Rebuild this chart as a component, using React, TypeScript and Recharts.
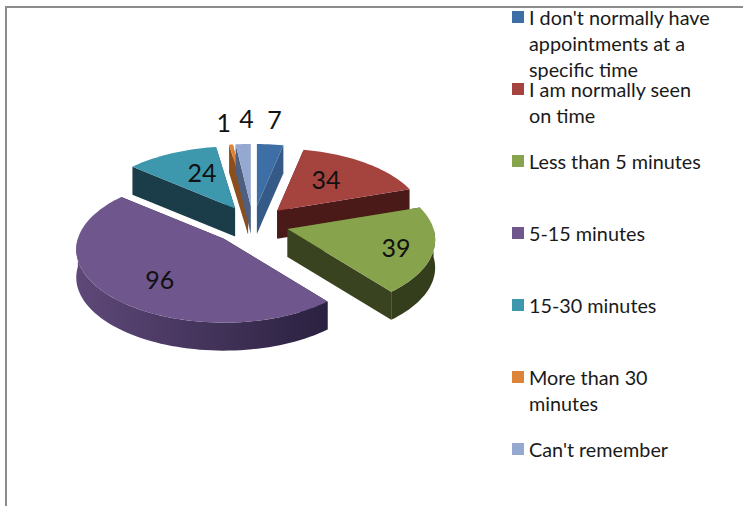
import { Pie, PieChart } from 'recharts';

const categories = [
  "I don't normally have appointments at a specific time",
  'I am normally seen on time',
  'Less than 5 minutes',
  '5-15 minutes',
  '15-30 minutes',
  'More than 30 minutes',
  "Can't remember",
];
const values = [7, 34, 39, 96, 24, 1, 4];
const legendLines = [
  ["I don't normally have", 'appointments at a', 'specific time'],
  ['I am normally seen', 'on time'],
  ['Less than 5 minutes'],
  ['5-15 minutes'],
  ['15-30 minutes'],
  ['More than 30', 'minutes'],
  ["Can't remember"],
];

// styling per slice
const topColors = ['#3e6ea6', '#a5433f', '#87a34b', '#6f568c', '#3d97ad', '#dd8439', '#95a9d0'];
const cutColors = ['#355a87', '#4a1a18', '#39431f', '#2b2140', '#1b3d4a', '#8a4f1d', '#4f5f80'];
const wallLeft = ['#355a87', '#4a1a18', '#3f4a22', '#5e4878', '#1b3d4a', '#8a4f1d', '#4f5f80'];
const wallRight = ['#355a87', '#4a1a18', '#343d1c', '#2b2140', '#1b3d4a', '#8a4f1d', '#4f5f80'];
const explode = [1, 1, 1, 1.15, 1, 1, 1];
const labelRadius = [1.45, 0.6, 0.75, 0.62, 0.5, 1.4, 1.5];
const labelNudgeX = [0, -6, 0, 4, 1, -2, 6];
const labelNudgeY = [-5, -1, 2, 6, -7, -4, -3];

// slices are painted back to front, so teal goes first and purple last
const drawOrder = [4, 5, 6, 0, 1, 2, 3];
const total = values.reduce((a, b) => a + b, 0);
const firstClock = (values.slice(0, drawOrder[0]).reduce((a, b) => a + b, 0) / total) * 360;
const pieData = drawOrder.map((i) => ({ name: categories[i], value: values[i], fill: topColors[i], idx: i }));

const CX = 253;
const CY = 224;
const RX = 146;
const RY = 73;
const DEPTH = 28;
const PERSP = 0.15;
const EX = 36;
const EY = 18;

const rad = (d: number) => (d * Math.PI) / 180;

// clock angle + radial fraction -> tilted pie coordinates, near side bigger than far side
function project(clock: number, r: number, rx: number, ry: number) {
  const u = Math.sin(rad(clock)) * r;
  const v = -Math.cos(rad(clock)) * r;
  const w = 1 + PERSP * v;
  return { x: u * rx * w, y: v * ry * w };
}

function apexOf(cx: number, cy: number, mid: number, idx: number) {
  const k = explode[idx];
  return {
    x: cx + Math.sin(rad(mid)) * EX * k,
    y: cy - Math.cos(rad(mid)) * EY * k,
  };
}

function arcPoints(ax: number, ay: number, from: number, to: number, rx: number, ry: number, drop = 0) {
  const pts: string[] = [];
  const n = Math.max(2, Math.ceil(Math.abs(to - from) / 2));
  for (let k = 0; k <= n; k++) {
    const p = project(from + ((to - from) * k) / n, 1, rx, ry);
    pts.push(`${(ax + p.x).toFixed(2)},${(ay + p.y + drop).toFixed(2)}`);
  }
  return pts;
}

function Slice3D(props: any) {
  const { cx, cy, outerRadius, startAngle, endAngle, payload } = props;
  const idx = payload?.idx ?? props.idx;
  const rx = outerRadius;
  const ry = (outerRadius * RY) / RX;
  const from = 90 - startAngle;
  const to = 90 - endAngle;
  const apex = apexOf(cx, cy, (from + to) / 2, idx);

  const cut = (a: number) => {
    const p = project(a, 1, rx, ry);
    const ex = apex.x + p.x;
    const ey = apex.y + p.y;
    return `${apex.x},${apex.y} ${ex},${ey} ${ex},${ey + DEPTH} ${apex.x},${apex.y + DEPTH}`;
  };

  // only the part of the rim that faces the viewer gets a wall
  const a0 = ((from % 360) + 360) % 360;
  const a1 = a0 + (to - from);
  const wFrom = Math.max(a0, 90);
  const wTo = Math.min(a1, 270);
  const gradId = `wall-${idx}`;

  return (
    <g>
      <defs>
        <linearGradient id={gradId} gradientUnits="userSpaceOnUse" x1={apex.x - rx} x2={apex.x + rx * 0.7} y1={0} y2={0}>
          <stop offset="0" stopColor={wallLeft[idx]} />
          <stop offset="1" stopColor={wallRight[idx]} />
        </linearGradient>
      </defs>
      <polygon points={cut(from)} fill={cutColors[idx]} />
      <polygon points={cut(to)} fill={cutColors[idx]} />
      {wTo > wFrom && (
        <polygon
          points={[
            ...arcPoints(apex.x, apex.y, wFrom, wTo, rx, ry),
            ...arcPoints(apex.x, apex.y, wTo, wFrom, rx, ry, DEPTH),
          ].join(' ')}
          fill={`url(#${gradId})`}
        />
      )}
      <polygon
        points={[`${apex.x},${apex.y}`, ...arcPoints(apex.x, apex.y, from, to, rx, ry)].join(' ')}
        fill={topColors[idx]}
      />
    </g>
  );
}

function SliceLabel(props: any) {
  const { cx, cy, outerRadius, midAngle, payload, value } = props;
  const idx = payload?.idx ?? props.idx;
  const mid = 90 - midAngle;
  const apex = apexOf(cx, cy, mid, idx);
  const p = project(mid, labelRadius[idx], outerRadius, (outerRadius * RY) / RX);
  return (
    <text
      x={apex.x + p.x + labelNudgeX[idx]}
      y={apex.y + p.y + labelNudgeY[idx]}
      textAnchor="middle"
      dominantBaseline="central"
      fontFamily="Lato"
      fontSize={25}
      fill="#111"
    >
      {value}
    </text>
  );
}

function LegendBox() {
  return (
    <div style={{ position: 'absolute', left: 512, top: 5, width: 231, height: 500, fontFamily: 'Lato', fontSize: 19.8, lineHeight: '26px', color: '#1a1a1a' }}>
      {categories.map((name, i) => (
        <div key={name} style={{ position: 'absolute', left: 0, top: i * 72 }}>
          <div style={{ position: 'absolute', left: 0, top: 6, width: 12, height: 12, background: topColors[i] }} />
          <div style={{ position: 'absolute', left: 17, top: -1.5, whiteSpace: 'nowrap' }}>
            {legendLines[i].map((line) => (
              <div key={line}>{line}</div>
            ))}
          </div>
        </div>
      ))}
    </div>
  );
}

export default function App() {
  return (
    <div style={{ position: 'absolute', left: 0, top: 0, width: 743, height: 506, background: '#fff', overflow: 'hidden' }}>
      <div style={{ position: 'absolute', left: 5, top: 6, width: 738, height: 2, background: '#8c8c8c' }} />
      <div style={{ position: 'absolute', left: 5, top: 6, width: 2, height: 500, background: '#8c8c8c' }} />
      <PieChart width={743} height={506} margin={{ top: 0, right: 0, bottom: 0, left: 0 }} style={{ position: 'absolute', left: 0, top: 0 }}>
        <Pie
          data={pieData}
          dataKey="value"
          nameKey="name"
          cx={CX}
          cy={CY}
          outerRadius={RX}
          startAngle={90 - firstClock}
          endAngle={90 - firstClock - 360}
          stroke="none"
          shape={Slice3D}
          label={SliceLabel}
          labelLine={false}
          isAnimationActive={false}
        />
      </PieChart>
      <LegendBox />
    </div>
  );
}
